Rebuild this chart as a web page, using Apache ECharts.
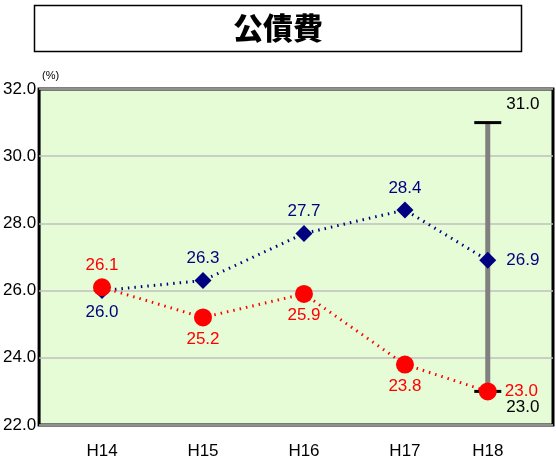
<!DOCTYPE html>
<html><head><meta charset="utf-8">
<script src="https://cdn.jsdelivr.net/npm/echarts@6/dist/echarts.min.js"></script>
<style>html,body{margin:0;padding:0;background:#fff}#c{width:556px;height:472px}</style>
</head><body><div id="c"></div>
<script>
const categories = ['H14','H15','H16','H17','H18'];
const xPos = [0, 1, 2, 3, 3.82];
const blueValues = [26.0, 26.3, 27.7, 28.4, 26.9];
const redValues = [26.1, 25.2, 25.9, 23.8, 23.0];
const rangeValues = [23.0, 31.0];
const yTicks = [22, 24, 26, 28, 30, 32];

const blueLabelPos = ['bottom','top','top','top','right'];
const redLabelPos = ['top','bottom','bottom','bottom','right'];

const chart = echarts.init(document.getElementById('c'));
const font = 'Liberation Sans, Arial, sans-serif';
const fs = 17;
function lbl(v){ return v.toFixed(1); }

const blueData = blueValues.map((v,i)=>({
  value:[xPos[i], v],
  label:{position: blueLabelPos[i], distance: blueLabelPos[i]==='right'?10:5}
}));
const redData = redValues.map((v,i)=>({
  value:[xPos[i], v],
  label:{position: redLabelPos[i], distance: redLabelPos[i]==='right'?8:4}
}));
const rangeX = xPos[xPos.length-1];

chart.setOption({
  animation:false,
  backgroundColor:'#ffffff',
  graphic:[
    {type:'rect', shape:{x:34.5,y:5.5,width:487,height:46}, style:{fill:'#fff',stroke:'#000',lineWidth:1.5}, z:10},
    {type:'text', x:278, y:28, style:{text:'公債費', font:'900 30px "Noto Sans CJK JP"', fill:'#000', textAlign:'center', textVerticalAlign:'middle'}, z:11},
    {type:'text', x:42, y:70, style:{text:'(%)', font:'11px '+font, fill:'#000'}, z:11}
  ],
  grid:{left:36, right:3, top:89, bottom:47, show:true, backgroundColor:'#e6fcd6', borderColor:'#000', borderWidth:3},
  xAxis:{
    type:'value', min:-0.623, max:4.466,
    axisLine:{show:false}, axisTick:{show:false}, splitLine:{show:false},
    axisLabel:{customValues:xPos, margin:18, color:'#000', fontSize:fs, fontFamily:font,
      formatter:(v)=>{ const i = xPos.findIndex(p=>Math.abs(p-v)<1e-6); return i>=0?categories[i]:''; }}
  },
  yAxis:{
    type:'value', min:22, max:32, interval:2,
    axisLine:{show:false}, axisTick:{show:false},
    splitLine:{lineStyle:{color:'#c0c0c0', width:1.5}},
    axisLabel:{margin:3, color:'#000', fontSize:fs, fontFamily:font, formatter:(v)=>v.toFixed(1)}
  },
  series:[
    {
      type:'line', data:rangeValues.map(v=>({value:[rangeX, v]})),
      lineStyle:{color:'#808080', width:5}, symbol:'rect', symbolSize:[27,3],
      itemStyle:{color:'#000'}, z:2,
      label:{show:true, position:'right', distance:5, color:'#000', fontSize:fs, fontFamily:font,
        formatter:(p)=>lbl(p.value[1])},
      labelLayout:(p)=>({dy: p.dataIndex===0?16:-18})
    },
    {
      type:'line', data:blueData,
      lineStyle:{color:'#000080', width:3, type:[1.5,5]}, symbol:'diamond', symbolSize:17,
      itemStyle:{color:'#000080'}, z:3,
      label:{show:true, color:'#000080', fontSize:fs, fontFamily:font, formatter:(p)=>lbl(p.value[1])}
    },
    {
      type:'line', data:redData,
      lineStyle:{color:'#ff0000', width:3, type:[1.5,5]}, symbol:'circle', symbolSize:18,
      itemStyle:{color:'#ff0000'}, z:4,
      label:{show:true, color:'#ff0000', fontSize:fs, fontFamily:font, formatter:(p)=>lbl(p.value[1])}
    }
  ]
});
</script></body></html>
